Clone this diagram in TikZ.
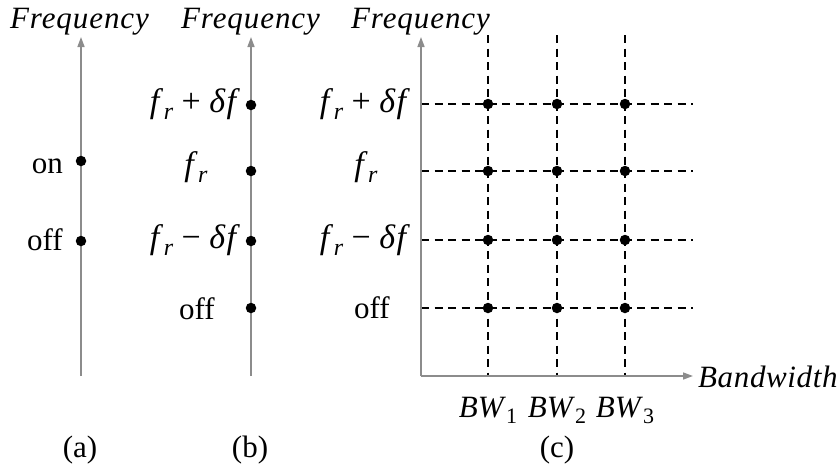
\documentclass[tikz,border=0pt]{standalone}
\usepackage{fontspec}
\setmainfont{Liberation Serif}
\usetikzlibrary{arrows.meta}
\newcommand\subs[1]{\raisebox{-0.2em}{\fontsize{22}{22}\selectfont #1}}
\newcommand\myfr{\textit{f}\kern0.5pt\raisebox{-0.22em}{\fontsize{24}{24}\selectfont\textit{r}}}
\newcommand\mybin[1]{\hspace{0.25em}#1\hspace{0.25em}}
\newcommand\mydf{\textit{δ}\kern1pt\textit{f}\kern2pt}
\newcommand\myfreq{{\addfontfeature{LetterSpace=3}\textit{Frequency}}}
\begin{document}
\begin{tikzpicture}[x=1pt,y=-1pt,
  every node/.style={font=\fontsize{31}{37}\selectfont, inner sep=0pt},
  mathlbl/.style={font=\fontsize{34}{40}\selectfont},
  axis/.style={draw=black!45, line width=1.5pt, -{Triangle[length=10pt,width=7pt]}},
  gridline/.style={draw=black, line width=1.1pt, dash pattern=on 8pt off 5.5pt},
  dot/.style={circle, fill=black, minimum size=10.5pt, inner sep=0pt}]
\useasboundingbox (0,0) rectangle (840,463);

% ---------- (a)
\coordinate (a0) at (81,376); \coordinate (a1) at (81,37);
\draw[axis] (a0) -- (a1);
\node[anchor=base] (fa) at (80,28) {\myfreq};
\node[dot] (aon) at (81,161) {};
\node[dot] (aoff) at (81,241) {};
\node[anchor=base east] (lon) at (63,173) {on};
\node[anchor=base east] (loff) at (63,250) {off};
\node[anchor=base] (capa) at (80,457) {(a)};

% ---------- (b)
\coordinate (b0) at (251,376); \coordinate (b1) at (251,37);
\draw[axis] (b0) -- (b1);
\node[anchor=base] (fb) at (251,28) {\myfreq};
\node[dot] (b4) at (251,105) {};
\node[dot] (b3) at (251,171) {};
\node[dot] (b2) at (251,241) {};
\node[dot] (b1d) at (251,308) {};
\node[mathlbl] (lb4) at (196,104) {\myfr\mybin{+}\mydf};
\node[mathlbl] (lb3) at (196,167) {\myfr};
\node[mathlbl] (lb2) at (196,240) {\myfr\mybin{−}\mydf};
\node (lb1) at (197,309) {off};
\node[anchor=base] (capb) at (250,457) {(b)};

% ---------- (c)
\coordinate (c0) at (421,376); \coordinate (c1) at (421,37); \coordinate (c2) at (693,376);
\foreach \x/\n in {488/1,557/2,625/3}{
  \coordinate (vt\n) at (\x,35); \coordinate (vb\n) at (\x,376);
  \draw[gridline] (vt\n) -- (vb\n);
}
\foreach \y/\m in {104/4,171/3,240/2,308/1}{
  \coordinate (hl\m) at (421,\y); \coordinate (hr\m) at (693,\y);
  \draw[gridline] (hl\m) -- (hr\m);
}
\draw[axis] (c0) -- (c1);
\draw[axis] (c0) -- (c2);
\foreach \x/\n in {488/1,557/2,625/3}{
  \foreach \y/\m in {104/4,171/3,240/2,308/1}{
    \node[dot] (d\n\m) at (\x,\y) {};
  }
}
\node[anchor=base] (fc) at (421,28) {\myfreq};
\node[mathlbl] (lc4) at (366,104) {\myfr\mybin{+}\mydf};
\node[mathlbl] (lc3) at (366,167) {\myfr};
\node[mathlbl] (lc2) at (366,240) {\myfr\mybin{−}\mydf};
\node (lc1) at (372,308) {off};
\node[anchor=base west] (bw) at (698,387) {{\addfontfeature{LetterSpace=2}\textit{Bandwidth}}};
\node[anchor=base] (bw1) at (488,417) {\textit{BW}\subs{1}};
\node[anchor=base] (bw2) at (557,417) {\textit{BW}\subs{2}};
\node[anchor=base] (bw3) at (625,417) {\textit{BW}\subs{3}};
\node[anchor=base] (capc) at (557,457) {(c)};
\end{tikzpicture}
\end{document}
